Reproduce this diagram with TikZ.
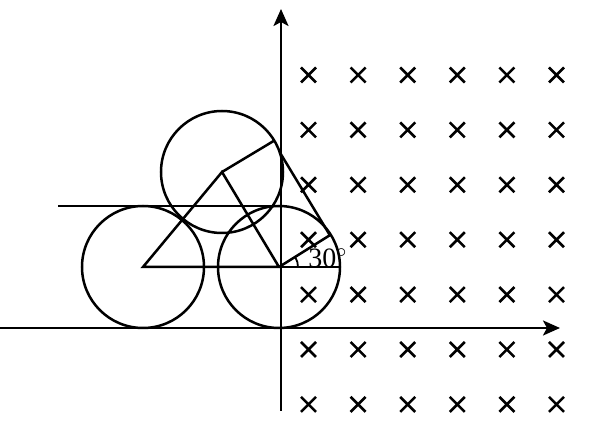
\documentclass[tikz,border=0pt]{standalone}
\usepackage{fontspec}
\setmainfont{Liberation Serif}
\usetikzlibrary{arrows.meta, calc}

\begin{document}
\begin{tikzpicture}[
    x=0.5pt, y=0.5pt,
    >={Stealth[length=8.5pt, width=7.5pt, inset=2pt]},
    axis/.style={->, line width=1.3pt},
    geo/.style={line width=1.25pt},
    fieldmark/.style={line width=1.3pt},
    anglabel/.style={font=\fontsize{14}{16}\selectfont, inner sep=0pt},
]
\useasboundingbox (0,0) rectangle (596,429);

% === Axes ===
\coordinate (xl) at (0,101);
\coordinate (xr) at (560,101);
\coordinate (yb) at (281,18);
\coordinate (yt) at (281,420);
\draw[axis] (xl) -- (xr);
\draw[axis] (yb) -- (yt);

% === Magnetic field (into page) ===
\foreach \i in {0,...,5}
  \foreach \j in {0,...,6}
    \draw[fieldmark] ({308.5+49.6*\i-7.5},{354-54.9*\j-7.5}) -- ++(15,15)
                     ({308.5+49.6*\i-7.5},{354-54.9*\j+7.5}) -- ++(15,-15);

% === Circles ===
\coordinate (A) at (143,162);
\coordinate (B) at (279,162);
\coordinate (C) at (222,257);
\draw[geo] (A) circle[radius=61];
\draw[geo] (B) circle[radius=61];
\draw[geo] (C) circle[radius=61];

% === Triangle of centres ===
\draw[geo] (A) -- (C) -- (B) -- cycle;

% === Tangent line on top ===
\coordinate (hl) at (58,223);
\coordinate (hr) at (281,223);
\draw[geo] (hl) -- (hr);

% === Radii and slanted tangent ===
\coordinate (Br) at ($(B)+(0:60)$);
\coordinate (Bt) at ($(B)+(32:60)$);
\coordinate (Ct) at ($(C)+(31:61)$);
\coordinate (Cs) at ($(C)+(19:61)$);
\draw[geo] (B) -- (Br);
\draw[geo] (B) -- (Bt);
\draw[geo] (C) -- (Ct);
\draw[geo] (Cs) -- (Bt);

% angle mark
\draw[line width=0.9pt] ($(B)+(19,0)$) arc[start angle=0, end angle=30, radius=19];
\node[anglabel, anchor=base west] (ang) at (308,161) {30$^{\circ}$};

\end{tikzpicture}
\end{document}
